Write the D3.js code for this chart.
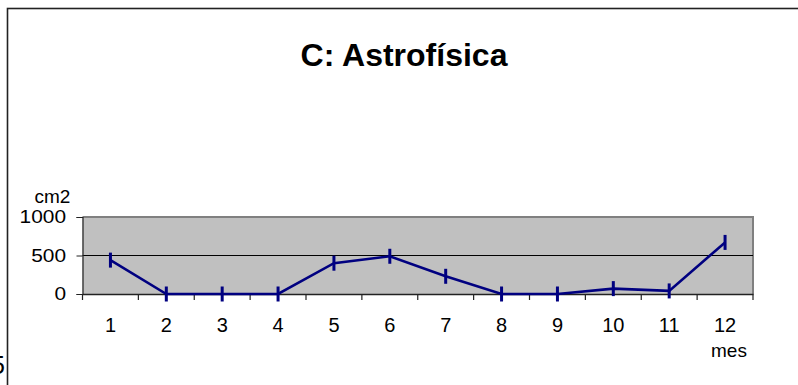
<!DOCTYPE html>
<html><head><meta charset="utf-8">
<script src="https://cdn.jsdelivr.net/npm/d3@7"></script>
<style>body{margin:0;background:#fff;overflow:hidden}svg{display:block;font-family:"Liberation Sans",Arial,sans-serif}</style>
</head><body>
<script>
const months = ["1","2","3","4","5","6","7","8","9","10","11","12"];
const values = [440,0,0,0,400,490,230,0,0,70,40,670];
const yTicks = [0,500,1000];
const title = "C: Astrofísica";
const yLabel = "cm2";
const xLabel = "mes";

const W=798,H=385;
const svg=d3.select("body").append("svg").attr("width",W).attr("height",H);
svg.append("rect").attr("x",7.5).attr("y",8.5).attr("width",820).attr("height",420)
  .attr("fill","none").attr("stroke","#222").attr("stroke-width",1.6);

const L=82.5,R=753,T=217,B=294;
const x=d3.scaleBand().domain(months).range([L,R]);
const y=d3.scaleLinear().domain([0,1000]).range([B,T]);

svg.append("rect").attr("x",L).attr("y",T).attr("width",R-L).attr("height",B-T).attr("fill","#c0c0c0");
svg.append("path").attr("d",`M${L},${T}H${R}V${B}`).attr("fill","none").attr("stroke","#808080").attr("stroke-width",2);
svg.selectAll(".grid").data(yTicks.filter(d=>d>0&&d<1000)).join("line")
  .attr("x1",L).attr("x2",R).attr("y1",d=>y(d)).attr("y2",d=>y(d)).attr("stroke","#000").attr("stroke-width",1);

const ya=svg.append("g").attr("transform",`translate(${L},0)`)
  .call(d3.axisLeft(y).tickValues(yTicks).tickSize(6).tickFormat(""));
ya.select(".domain").attr("stroke","#222").attr("stroke-width",1.2);
ya.selectAll(".tick line").attr("stroke","#222");
svg.selectAll(".ylab").data(yTicks).join("text")
  .attr("transform",d=>`translate(66,${y(d)}) scale(1.16,1)`)
  .attr("text-anchor","end").attr("dy","0.36em").attr("font-size",18).text(d=>d3.format("d")(d));

const xa=svg.append("g").attr("transform",`translate(0,${B})`)
  .call(d3.axisBottom(x).tickSize(0).tickPadding(23.5));
xa.select(".domain").attr("stroke","#222").attr("stroke-width",1.5);
xa.selectAll("text").attr("font-size",20).attr("fill","#000").attr("font-family","Liberation Sans, Arial");
const bounds=months.map(m=>x(m)).concat([R]);
svg.selectAll(".xt").data(bounds).join("line").attr("x1",d=>d).attr("x2",d=>d)
  .attr("y1",B).attr("y2",B+6).attr("stroke","#222").attr("stroke-width",1.2);

const line=d3.line().x((d,i)=>x(months[i])+x.bandwidth()/2).y(d=>y(d));
svg.append("path").datum(values).attr("d",line).attr("fill","none").attr("stroke","#000080").attr("stroke-width",2.6);
svg.selectAll(".mk").data(values).join("line")
  .attr("x1",(d,i)=>x(months[i])+x.bandwidth()/2).attr("x2",(d,i)=>x(months[i])+x.bandwidth()/2)
  .attr("y1",d=>y(d)-7.5).attr("y2",d=>y(d)+7.5).attr("stroke","#000080").attr("stroke-width",3);

svg.append("text").attr("x",404).attr("y",66).attr("text-anchor","middle").attr("font-size",32).attr("font-weight","bold").text(title);
svg.append("text").attr("x",52.5).attr("y",202.5).attr("text-anchor","middle").attr("font-size",19).text(yLabel);
svg.append("text").attr("x",711).attr("y",357).attr("font-size",19).text(xLabel);
svg.append("text").attr("x",5).attr("y",374).attr("text-anchor","end").attr("font-size",25).text("5");
</script>
</body></html>
